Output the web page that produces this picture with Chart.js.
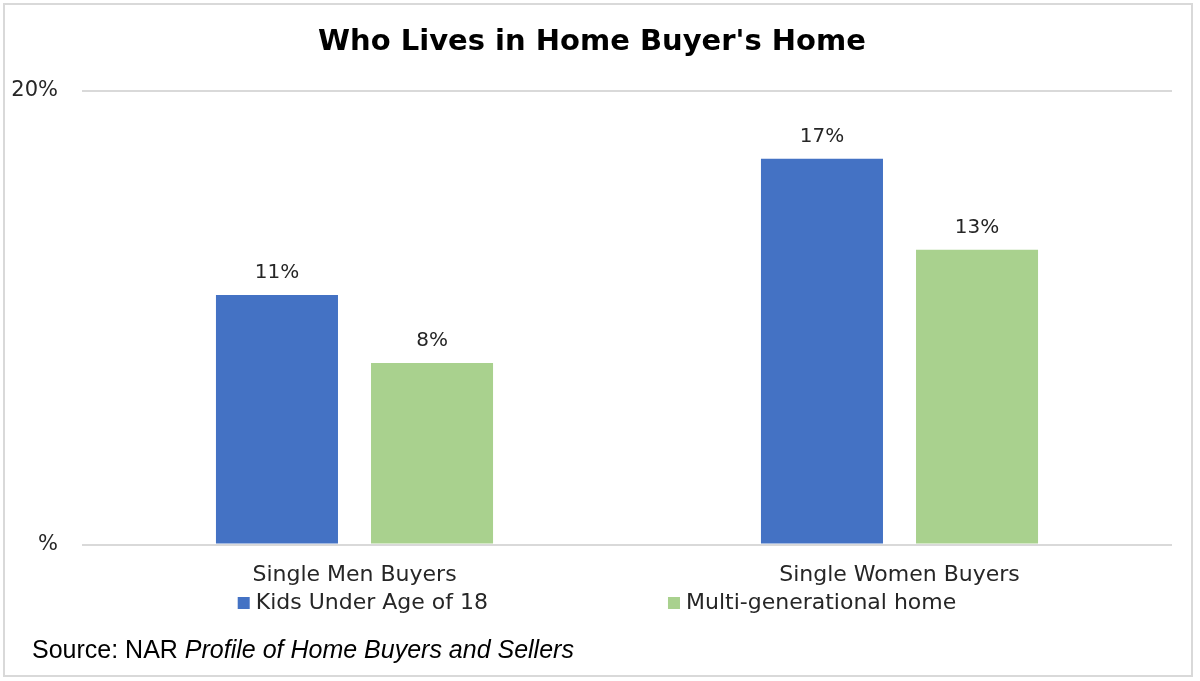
<!DOCTYPE html>
<html>
<head>
<meta charset="utf-8">
<script src="https://cdn.jsdelivr.net/npm/chart.js@4"></script>
<style>
  html, body { margin: 0; padding: 0; background: #fff; }
  #wrap { position: relative; width: 1200px; height: 681px; }
  #frame { position: absolute; left: 3px; top: 3px; width: 1190px; height: 674px;
           border: 2px solid #d9d9d9; box-sizing: border-box; pointer-events: none; }
  #source { position: absolute; left: 32px; top: 635px; font-family: "Liberation Sans", sans-serif;
            font-size: 25px; color: #000; white-space: nowrap; }
</style>
</head>
<body>
<div id="wrap">
  <canvas id="myChart" width="1200" height="681"></canvas>
  <div id="frame"></div>
  <div id="source">Source: NAR <i>Profile of Home Buyers and Sellers</i></div>
</div>
<script>
// who lives in the home buyer's home
const categories = ["Single Men Buyers", "Single Women Buyers"];
const kidsValues = [11, 17];
const multiGenValues = [8, 13];
const seriesNames = ["Kids Under Age of 18", "Multi-generational home"];
const seriesColors = ["#4472C4", "#A9D18E"];
const yTicks = [0, 20];

const labelFont = "DejaVu Sans";

// value labels over the bars
const barLabels = {
  id: 'barLabels',
  afterDatasetsDraw(chart) {
    const ctx = chart.ctx;
    ctx.save();
    ctx.font = '20px "' + labelFont + '"';
    ctx.fillStyle = '#262626';
    ctx.textAlign = 'center';
    ctx.textBaseline = 'bottom';
    chart.data.datasets.forEach((ds, i) => {
      chart.getDatasetMeta(i).data.forEach((bar, j) => {
        ctx.fillText(ds.data[j] + '%', bar.x, bar.y - 12);
      });
    });
    ctx.restore();
  }
};

// legend drawn under the category labels, wide gap like the original
const wideLegend = {
  id: 'wideLegend',
  afterDraw(chart) {
    const ctx = chart.ctx;
    const gap = 180, box = 12, base = 609;
    ctx.save();
    ctx.font = '22px "' + labelFont + '"';
    ctx.textBaseline = 'alphabetic';
    const widths = chart.data.datasets.map(ds => box + 6 + ctx.measureText(ds.label).width);
    const total = widths.reduce((a, b) => a + b, 0) + gap * (widths.length - 1);
    let x = 597 - total / 2;
    chart.data.datasets.forEach((ds, i) => {
      ctx.fillStyle = ds.backgroundColor;
      ctx.fillRect(x, base - box, box, box);
      ctx.fillStyle = '#262626';
      ctx.fillText(ds.label, x + box + 6, base);
      x += widths[i] + gap;
    });
    ctx.restore();
  }
};

new Chart("myChart", {
  type: "bar",
  data: {
    labels: categories,
    datasets: [
      { label: seriesNames[0], data: kidsValues, backgroundColor: seriesColors[0],
        categoryPercentage: 0.569, barPercentage: 0.787 },
      { label: seriesNames[1], data: multiGenValues, backgroundColor: seriesColors[1],
        categoryPercentage: 0.569, barPercentage: 0.787 }
    ]
  },
  options: {
    responsive: false,
    animation: false,
    layout: { padding: { left: 12, right: 28, top: 0, bottom: 76 } },
    plugins: {
      legend: { display: false },
      tooltip: { enabled: false },
      title: {
        display: true,
        text: "Who Lives in Home Buyer's Home",
        color: '#000',
        font: { family: labelFont, size: 29, weight: 'bold' },
        padding: { top: 25, bottom: 31 }
      }
    },
    scales: {
      x: {
        grid: { display: false, drawTicks: false },
        border: { display: false },
        ticks: { color: '#262626', font: { family: labelFont, size: 22 }, padding: 17 }
      },
      y: {
        min: yTicks[0],
        max: yTicks[yTicks.length - 1],
        afterBuildTicks: axis => { axis.ticks = yTicks.map(v => ({ value: v })); },
        afterFit: axis => { axis.width = 70; },
        border: { display: false },
        grid: { color: '#d9d9d9', lineWidth: 2, drawTicks: false },
        ticks: {
          color: '#262626',
          font: { family: labelFont, size: 21 },
          padding: 24,
          callback: v => v === 0 ? '%' : v + '%'
        }
      }
    }
  },
  plugins: [barLabels, wideLegend]
});
</script>
</body>
</html>
